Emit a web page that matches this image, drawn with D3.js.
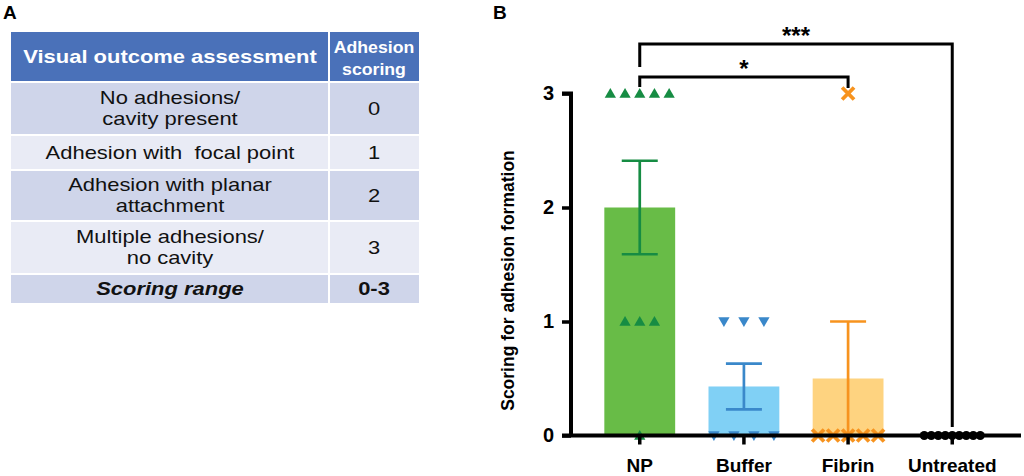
<!DOCTYPE html>
<html>
<head>
<meta charset="utf-8">
<script src="https://cdn.jsdelivr.net/npm/d3@7"></script>
<style>
  html, body { margin: 0; padding: 0; background: #fff; }
  svg text { font-family: "Liberation Sans", Arial, sans-serif; }
</style>
</head>
<body>
<svg id="chart" width="1024" height="476"></svg>
<script>
// ---------- Panel A: table data ----------
const tableHeader = ["Visual outcome assessment", "Adhesion|scoring"];
const tableDescriptions = ["No adhesions/|cavity present", "Adhesion with\u00a0 focal point", "Adhesion with planar|attachment", "Multiple adhesions/|no cavity", "Scoring range"];
const tableScores = ["0", "1", "2", "3", "0-3"];

// ---------- Panel B: chart data ----------
const categories = ["NP", "Buffer", "Fibrin", "Untreated"];
const meanValues = [2.0, 0.43, 0.5, 0];
const semValues = [0.41, 0.2, 0.5, 0];
const pointsNP = [3, 3, 3, 3, 3, 1, 1, 1, 0];
const pointsBuffer = [1, 1, 1, 0, 0, 0, 0];
const pointsFibrin = [3, 0, 0, 0, 0, 0];
const pointsUntreated = [0, 0, 0, 0, 0, 0, 0, 0, 0];
const yTicks = [0, 1, 2, 3];
const comparisons = [
  { from: "NP", to: "Fibrin", label: "*" },
  { from: "NP", to: "Untreated", label: "***" }
];

const svg = d3.select("#chart");
const font = '"Liberation Sans", Arial, sans-serif';

// ===== Panel A =====
svg.append("text").attr("x", 3).attr("y", 19).attr("font-size", 19).attr("font-weight", "bold").text("A");

const tX = [11, 329, 419];
const tY = [32, 82, 135, 170, 221, 274, 303];
const gA = svg.append("g");
gA.append("rect").attr("x", tX[0]).attr("y", tY[0]).attr("width", tX[2] - tX[0]).attr("height", tY[1] - tY[0]).attr("fill", "#4a71b9");
const rowFill = ["#cfd5ea", "#e9ebf5", "#cfd5ea", "#e9ebf5", "#cfd5ea"];
tableDescriptions.forEach((d, i) => {
  gA.append("rect").attr("x", tX[0]).attr("y", tY[i + 1]).attr("width", tX[2] - tX[0]).attr("height", tY[i + 2] - tY[i + 1]).attr("fill", rowFill[i]);
});
tY.slice(1, 6).forEach(yy => {
  gA.append("line").attr("x1", tX[0]).attr("x2", tX[2]).attr("y1", yy).attr("y2", yy).attr("stroke", "#fff").attr("stroke-width", 2);
});
gA.append("line").attr("x1", tX[1]).attr("x2", tX[1]).attr("y1", tY[0]).attr("y2", tY[6]).attr("stroke", "#fff").attr("stroke-width", 2);

function cellText(x, yTop, yBot, str, opts) {
  const lines = str.split("|");
  const lh = opts.lh || 21;
  const sx = opts.sx || 1.22;
  const mid = (yTop + yBot) / 2 + (opts.dy || 0);
  const t = gA.append("text").attr("transform", `translate(${x},0) scale(${sx},1)`).attr("text-anchor", "middle")
    .attr("font-size", opts.size).attr("font-weight", opts.weight || "normal")
    .attr("font-style", opts.style || "normal").attr("fill", opts.fill || "#111");
  lines.forEach((ln, k) => {
    t.append("tspan").attr("x", 0).attr("y", mid + (k - (lines.length - 1) / 2) * lh + opts.size * 0.35).text(ln);
  });
}
const c1 = (tX[0] + tX[1]) / 2, c2 = (tX[1] + tX[2]) / 2;
cellText(c1, tY[0], tY[1], tableHeader[0], { size: 18, weight: "bold", fill: "#fff" });
cellText(c2, tY[0], tY[1], tableHeader[1], { size: 17, weight: "bold", fill: "#fff", lh: 22, dy: 1, sx: 1.04 });
tableDescriptions.forEach((d, i) => {
  const last = i === tableDescriptions.length - 1;
  cellText(c1, tY[i + 1], tY[i + 2], d, { size: 18, weight: last ? "bold" : "normal", style: last ? "italic" : "normal", lh: 21 });
  cellText(c2, tY[i + 1], tY[i + 2], tableScores[i], { size: 18, weight: last ? "bold" : "normal" });
});

// ===== Panel B =====
svg.append("text").attr("x", 493).attr("y", 19).attr("font-size", 19).attr("font-weight", "bold").text("B");

const axisX = 571, x1 = 1021;
const y = d3.scaleLinear().domain([0, 3]).range([435.5, 93.5]);
const x = d3.scaleBand().domain(categories).range([axisX, x1]).padding(0.32);

const barColors = ["#68bc47", "#80d0f5", "#fed380", "#888"];
const markColors = ["#168c43", "#3a88ca", "#f7931e", "#000"];
const gB = svg.append("g");

gB.selectAll("rect.bar").data(categories).enter().append("rect")
  .attr("x", d => x(d)).attr("width", x.bandwidth())
  .attr("y", (d, i) => y(meanValues[i])).attr("height", (d, i) => y(0) - y(meanValues[i]))
  .attr("fill", (d, i) => barColors[i]);

categories.forEach((c, i) => {
  if (semValues[i] === 0) return;
  const cx = x(c) + x.bandwidth() / 2;
  const hi = meanValues[i] + semValues[i], lo = Math.max(0, meanValues[i] - semValues[i]);
  const g = gB.append("g").attr("stroke", markColors[i]).attr("stroke-width", 2.7);
  g.append("line").attr("x1", cx).attr("x2", cx).attr("y1", y(hi)).attr("y2", y(lo));
  g.append("line").attr("x1", cx - 18).attr("x2", cx + 18).attr("y1", y(hi)).attr("y2", y(hi));
  if (lo > 0) g.append("line").attr("x1", cx - 18).attr("x2", cx + 18).attr("y1", y(lo)).attr("y2", y(lo));
});

// axes
const yAxis = d3.axisLeft(y).tickValues(yTicks).tickFormat(d3.format("d")).tickSize(9).tickPadding(8);
const gy = svg.append("g").attr("transform", `translate(${axisX},0)`).call(yAxis);
gy.select(".domain").attr("stroke", "#000").attr("stroke-width", 4).attr("d", `M-9,${y(3)}H0V${y(0)}`);
gy.selectAll(".tick line").attr("stroke", "#000").attr("stroke-width", 3.5);
gy.selectAll(".tick text").attr("font-size", 20).attr("font-weight", "bold").attr("fill", "#000").attr("font-family", font);

const xAxis = d3.axisBottom(x).tickSize(9).tickPadding(14);
const gx = svg.append("g").attr("transform", `translate(0,${y(0)})`).call(xAxis);
gx.select(".domain").attr("stroke", "#000").attr("stroke-width", 4).attr("d", `M${axisX - 9},0H${x1}`);
gx.selectAll(".tick line").attr("stroke", "#000").attr("stroke-width", 3.5);
gx.selectAll(".tick text").attr("font-size", 19).attr("font-weight", "bold").attr("fill", "#000").attr("font-family", font);

// y label
svg.append("text").attr("transform", `translate(514,${(y(0) + y(3)) / 2 + 16}) rotate(-90)`)
  .attr("text-anchor", "middle").attr("font-size", 17.5).attr("font-weight", "bold").text("Scoring for adhesion formation");

// points: spread horizontally within groups of equal values
const pointSets = [pointsNP, pointsBuffer, pointsFibrin, pointsUntreated];
const spreads = [14.7, 20, 15, 7];
const tri = d3.symbol().type(d3.symbolTriangle).size(55);
const cross = d3.symbol().type(d3.symbolX).size(95);
pointSets.forEach((pts, i) => {
  const cx = x(categories[i]) + x.bandwidth() / 2;
  d3.groups(pts, v => v).forEach(([val, arr]) => {
    arr.forEach((v, k) => {
      const px = cx + (k - (arr.length - 1) / 2) * spreads[i];
      const py = y(v);
      if (i === 0) {
        gB.append("path").attr("d", tri()).attr("transform", `translate(${px},${py + 1})`).attr("fill", markColors[0]);
      } else if (i === 1) {
        gB.append("path").attr("d", tri()).attr("transform", `translate(${px},${py - 1}) rotate(180)`).attr("fill", markColors[1]);
      } else if (i === 2) {
        gB.append("path").attr("d", cross()).attr("transform", `translate(${px},${py})`).attr("fill", "none")
          .attr("stroke", markColors[2]).attr("stroke-width", 3.8);
      } else {
        gB.append("circle").attr("cx", px).attr("cy", py).attr("r", 4.5).attr("fill", "#000");
      }
    });
  });
});

// significance brackets
const bracketY = [77, 44];
const leftLegEnd = [87, 67];
const rightLegEnd = [88, 427];
comparisons.forEach((cmp, k) => {
  const xa = x(cmp.from) + x.bandwidth() / 2, xb = x(cmp.to) + x.bandwidth() / 2;
  const by = bracketY[k];
  svg.append("path").attr("d", `M${xa},${leftLegEnd[k]}V${by}H${xb}V${rightLegEnd[k]}`)
    .attr("fill", "none").attr("stroke", "#000").attr("stroke-width", 3);
  svg.append("text").attr("x", (xa + xb) / 2).attr("y", by).attr("text-anchor", "middle")
    .attr("font-size", 24).attr("font-weight", "bold").text(cmp.label);
});
</script>
</body>
</html>
